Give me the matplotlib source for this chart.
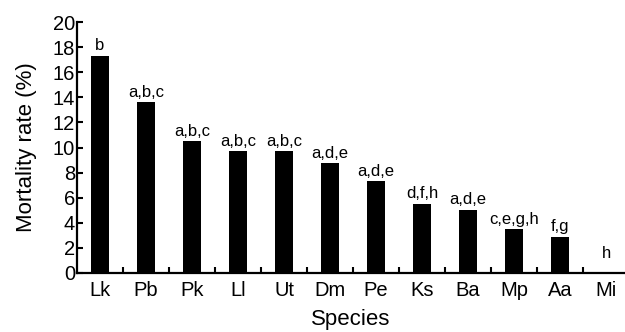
import matplotlib
matplotlib.use("Agg")
import matplotlib.pyplot as plt
import numpy as np

species = ["Lk", "Pb", "Pk", "Ll", "Ut", "Dm", "Pe", "Ks", "Ba", "Mp", "Aa", "Mi"]
mortality = [17.3, 13.6, 10.5, 9.7, 9.7, 8.75, 7.3, 5.5, 5.05, 3.5, 2.9, 0.0]
letters = ["b", "a,b,c", "a,b,c", "a,b,c", "a,b,c", "a,d,e", "a,d,e", "d,f,h",
           "a,d,e", "c,e,g,h", "f,g", "h"]
yticks = [0, 2, 4, 6, 8, 10, 12, 14, 16, 18, 20]

plt.rcParams['font.family'] = ['Liberation Sans', 'DejaVu Sans']

fig = plt.figure(figsize=(6.25, 3.32), dpi=100)
ax = fig.add_axes([77/625, 1-273/332, 1-77/625, (273-22)/332])

x = np.arange(len(species))
ax.bar(x, mortality, width=0.39, color="black", zorder=2)

for xi, v, lab in zip(x, mortality, letters):
    off = 4 if v > 0 else 11
    ax.annotate(lab, (xi, v), xytext=(0, off), textcoords="offset points",
                ha="center", va="baseline", fontsize=12)

ax.set_xlim(-0.5, 11.41)
ax.set_ylim(0, 20)
ax.set_yticks(yticks)
ax.set_xticks(x)
ax.set_xticklabels(species, fontsize=14.5)
ax.set_xticks(x[:-1] + 0.5, minor=True)
ax.tick_params(axis="x", which="major", length=0, pad=6)
ax.tick_params(axis="x", which="minor", direction="in", length=4.5, width=1.5)
ax.tick_params(axis="y", which="major", direction="in", length=4.5, width=1.5,
               labelsize=14.5, pad=1.5)

for s in ["top", "right"]:
    ax.spines[s].set_visible(False)
for s in ["left", "bottom"]:
    ax.spines[s].set_linewidth(1.6)

ax.set_ylabel("Mortality rate (%)", fontsize=16)
ax.set_xlabel("Species", fontsize=16)
ax.yaxis.set_label_coords((37 - 77) / 548, 0.5)
ax.xaxis.set_label_coords(0.5, (273 - 309) / 251)

fig.savefig("out.png", dpi=100)
